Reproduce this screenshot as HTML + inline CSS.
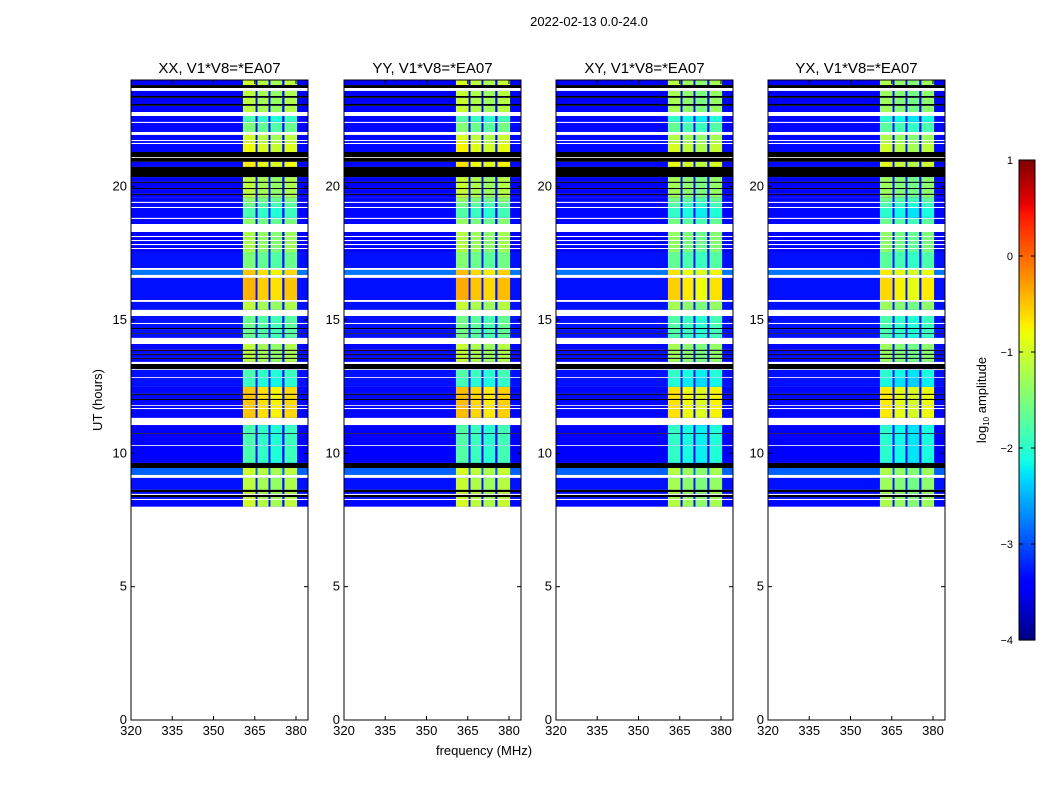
<!DOCTYPE html>
<html><head><meta charset="utf-8"><style>
body{margin:0;background:#fff;}
svg text{font-family:"Liberation Sans",sans-serif;fill:#000;}
</style></head><body>
<svg id="fig" width="1050" height="800" viewBox="0 0 1050 800">
<rect width="1050" height="800" fill="#fff"/>
<text x="589" y="26" font-size="13" text-anchor="middle">2022-02-13 0.0-24.0</text>
<text transform="translate(102,400) rotate(-90)" font-size="13" text-anchor="middle">UT (hours)</text>
<text x="484" y="755" font-size="13" text-anchor="middle">frequency (MHz)</text>
<g id="panels"></g>
<g id="cbar"></g>
</svg>
<script>
// ---- data ----
const panelTitles = ["XX, V1*V8=*EA07","YY, V1*V8=*EA07","XY, V1*V8=*EA07","YX, V1*V8=*EA07"];
const panelBandOffset = [0.05, 0.1, -0.1, -0.15];
const xTicks = [320,335,350,365,380];
const yTicks = [0,5,10,15,20];
const cbTicks = [1,0,-1,-2,-3,-4];
const bandStarts = [360.7,366.0,370.7,375.8];
const bandEnds   = [365.3,370.0,375.0,380.4];
const bandGain   = [0.15,0.0,-0.1,0.05];
// segments: [top hour, bottom hour, kind, band level, background level]
const segTop  = [24.00,23.81,23.59,23.40,23.33,23.10,23.03,22.65,22.39,21.94,21.71,21.60,21.30,21.08,20.93,20.74,20.36,20.18,20.14,19.95,19.91,19.73,19.69,19.58,19.39,19.20,18.79,18.30,18.11,17.96,17.81,17.66,17.55,16.88,16.58,15.68,15.15,14.85,14.70,14.66,14.51,14.48,14.10,13.88,13.84,13.73,13.69,13.58,13.54,13.35,13.13,12.83,12.49,12.23,12.19,12.04,12.00,11.78,11.66,11.06,10.76,10.73,10.28,9.64,9.45,9.08,8.63,8.55,8.44,8.36,8.25];
const segBot  = [23.81,23.70,23.40,23.33,23.10,23.03,22.80,22.43,22.05,21.75,21.64,21.30,21.11,20.93,20.74,20.36,20.18,20.14,19.95,19.91,19.73,19.69,19.58,19.43,19.24,18.83,18.60,18.15,18.00,17.85,17.70,17.55,16.95,16.69,15.75,15.38,14.89,14.70,14.66,14.51,14.48,14.33,13.88,13.84,13.73,13.69,13.58,13.54,13.43,13.16,12.86,12.49,12.23,12.19,12.04,12.00,11.81,11.70,11.33,10.76,10.73,10.31,9.64,9.45,9.19,8.63,8.55,8.48,8.36,8.29,8.00];
const segKind = ["n","k","n","k","n","k","n","n","n","n","n","n","k","k","n","k","n","k","n","k","n","k","n","n","n","n","n","n","n","n","n","n","n","n","n","n","n","n","k","n","k","n","n","k","n","k","n","k","n","k","n","n","n","k","n","k","n","n","n","n","k","n","n","k","n","n","k","n","k","n","n"];
const segBand = [-1.2,0,-1.3,0,-1.3,0,-1.3,-2.0,-1.7,-1.2,-1.1,-1.0,0,0,-0.9,0,-1.3,0,-1.3,0,-1.3,0,-1.3,-1.6,-1.8,-2.0,-1.6,-1.4,-1.4,-1.4,-1.4,-1.4,-1.7,-0.7,-0.6,-1.3,-1.8,-1.8,0,-1.8,0,-1.8,-1.3,0,-1.3,0,-1.3,0,-1.3,0,-2.0,-2.1,-0.7,0,-0.7,0,-0.7,-0.7,-0.7,-2.0,0,-2.0,-2.0,0,-1.2,-1.3,0,-1.2,0,-1.2,-1.2];
const segBg   = [-3.4,0,-3.5,0,-3.5,0,-3.45,-3.35,-3.35,-3.35,-3.35,-3.35,0,0,-3.35,0,-3.45,0,-3.45,0,-3.45,0,-3.45,-3.35,-3.35,-3.35,-3.35,-3.4,-3.4,-3.4,-3.4,-3.4,-3.3,-2.8,-3.3,-3.3,-3.3,-3.3,0,-3.3,0,-3.3,-3.35,0,-3.35,0,-3.35,0,-3.35,0,-3.3,-3.3,-3.35,0,-3.35,0,-3.35,-3.35,-3.35,-3.4,0,-3.4,-3.4,0,-2.9,-3.3,0,-3.35,0,-3.35,-3.35];

// ---- axes ----
const panelLeft = [131,344,556,768], pw=177, pTop=80, pBot=720;
const fMin=320, fMax=320+177/2.75;
function jet(v){
  let t=(v+4)/5; t=Math.max(0,Math.min(1,t));
  const lin=(x,pts)=>{for(let i=0;i<pts.length-1;i++){const [x0,y0]=pts[i],[x1,y1]=pts[i+1];if(x>=x0&&x<=x1)return y0+(y1-y0)*(x-x0)/(x1-x0);}return pts[pts.length-1][1];};
  const r=lin(t,[[0,0],[0.35,0],[0.66,1],[0.89,1],[1,0.5]]);
  const g=lin(t,[[0,0],[0.125,0],[0.375,1],[0.64,1],[0.91,0],[1,0]]);
  const b=lin(t,[[0,0.5],[0.11,1],[0.34,1],[0.65,0],[1,0]]);
  return `rgb(${Math.round(r*255)},${Math.round(g*255)},${Math.round(b*255)})`;
}
const NS="http://www.w3.org/2000/svg";
function mk(tag,attrs,parent){const e=document.createElementNS(NS,tag);for(const k in attrs)e.setAttribute(k,attrs[k]);parent.appendChild(e);return e;}
const panels=document.getElementById('panels');
panelTitles.forEach((title,p)=>{
  const L=panelLeft[p];
  const xs=f=>L+(f-fMin)/(fMax-fMin)*pw;
  const ys=h=>pBot-(h/24)*(pBot-pTop);
  const g=mk('g',{},panels);
  
  
  for(let i=0;i<segTop.length;i++){
    const y0=ys(segTop[i]), y1=ys(segBot[i]);
    if(segKind[i]==='k'){
      const r=mk('rect',{x:L,y:y0,width:pw,height:y1-y0,fill:'#000'},g);
      
      
      continue;
    }
    const r=mk('rect',{x:L,y:y0,width:pw,height:y1-y0,fill:jet(segBg[i])},g);
    
    
    for(let b=0;b<bandStarts.length;b++){
      const c=mk('rect',{x:xs(bandStarts[b]),y:y0,width:xs(bandEnds[b])-xs(bandStarts[b]),height:y1-y0,fill:jet(segBand[i]+bandGain[b]+panelBandOffset[p])},g);
      
      
    }
  }
  const fr=mk('rect',{x:L,y:pTop,width:pw,height:pBot-pTop,fill:'none',stroke:'#000','stroke-width':1},g);
  
  
  const t=mk('text',{x:L+pw/2,y:73,'font-size':15,'text-anchor':'middle'},g);
  t.textContent=title;
  
  
  xTicks.forEach(f=>{
    const x=xs(f);
    mk('line',{x1:x,x2:x,y1:pBot,y2:pBot-4,stroke:'#000'},g);
    mk('line',{x1:x,x2:x,y1:pTop,y2:pTop+4,stroke:'#000'},g);
    const tl=mk('text',{x:x,y:pBot+15,'font-size':13,'text-anchor':'middle'},g);
    tl.textContent=f;
    
    
  });
  yTicks.forEach(h=>{
    const y=ys(h);
    mk('line',{x1:L,x2:L+4,y1:y,y2:y,stroke:'#000'},g);
    mk('line',{x1:L+pw,x2:L+pw-4,y1:y,y2:y,stroke:'#000'},g);
    const tl=mk('text',{x:L-4,y:y+4,'font-size':13,'text-anchor':'end'},g);
    tl.textContent=h;
    
    
  });
});
// colorbar
const cb=document.getElementById('cbar');


const cbX=1019,cbW=16,cbT=160,cbB=640;
const cys=v=>cbB-(v+4)/5*(cbB-cbT);
for(let i=0;i<240;i++){
  const v=-4+5*i/240;
  mk('rect',{x:cbX,y:cys(v+5/240),width:cbW,height:(cbB-cbT)/240+0.6,fill:jet(v+2.5/240)},cb);
}
mk('rect',{x:cbX,y:cbT,width:cbW,height:cbB-cbT,fill:'none',stroke:'#000'},cb);
cbTicks.forEach(v=>{
  const y=cys(v);
  mk('line',{x1:cbX,x2:cbX+4,y1:y,y2:y,stroke:'#000'},cb);
  mk('line',{x1:cbX+cbW,x2:cbX+cbW-4,y1:y,y2:y,stroke:'#000'},cb);
  const tl=mk('text',{x:1013,y:y+4,'font-size':11,'text-anchor':'end'},cb);
  tl.textContent=(v<0?'\u2212'+(-v):v);
  
  
});
const cl=mk('text',{transform:'translate(986,400) rotate(-90)','font-size':13,'text-anchor':'middle'},cb);
cl.innerHTML='log<tspan font-size="8" dy="3">10</tspan><tspan dy="-3"> amplitude</tspan>';


</script>
</body></html>
